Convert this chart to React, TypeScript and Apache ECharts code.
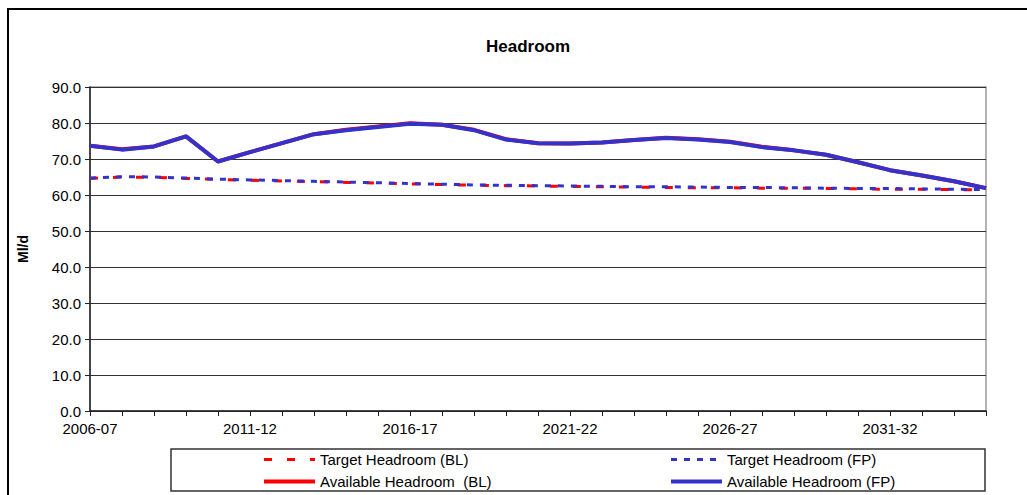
import React, { useEffect, useRef } from "react";
import * as echarts from "echarts";

const categories = [
  "2006-07", "2007-08", "2008-09", "2009-10", "2010-11", "2011-12", "2012-13", "2013-14",
  "2014-15", "2015-16", "2016-17", "2017-18", "2018-19", "2019-20", "2020-21", "2021-22",
  "2022-23", "2023-24", "2024-25", "2025-26", "2026-27", "2027-28", "2028-29", "2029-30",
  "2030-31", "2031-32", "2032-33", "2033-34", "2034-35",
];

const targetBL = [
  64.6, 65.0, 64.9, 64.6, 64.3, 64.1, 63.9, 63.7, 63.5, 63.3, 63.1, 62.9, 62.7, 62.6, 62.5,
  62.4, 62.3, 62.2, 62.1, 62.0, 62.0, 61.9, 61.9, 61.8, 61.7, 61.6, 61.6, 61.5, 61.4,
];
const targetFP = [
  64.7, 65.1, 65.0, 64.7, 64.4, 64.2, 64.0, 63.8, 63.6, 63.4, 63.2, 63.0, 62.8, 62.7, 62.6,
  62.5, 62.4, 62.3, 62.3, 62.2, 62.1, 62.1, 62.0, 61.9, 61.8, 61.8, 61.7, 61.6, 61.5,
];
const availableBL = [
  73.7, 72.7, 73.5, 76.3, 69.3, 71.9, 74.4, 76.9, 78.1, 79.0, 79.9, 79.5, 78.1, 75.5, 74.4,
  74.3, 74.6, 75.3, 75.9, 75.5, 74.8, 73.4, 72.4, 71.2, 69.1, 66.9, 65.4, 63.8, 61.9,
];
const availableFP = [
  73.7, 72.6, 73.5, 76.3, 69.3, 71.9, 74.4, 76.9, 78.0, 78.9, 79.8, 79.5, 78.0, 75.4, 74.4,
  74.3, 74.6, 75.3, 75.8, 75.4, 74.7, 73.3, 72.4, 71.2, 69.1, 66.9, 65.4, 63.8, 61.9,
];

const RED = "#FF0000";
const BLUE = "#3333CC";
const FONT = "Liberation Sans, Arial, sans-serif";

const RED_DASH = [8, 15];
const BLUE_DASH = [6, 7];

export default function App() {
  const ref = useRef<HTMLDivElement>(null);
  useEffect(() => {
    if (!ref.current) return;
    const chart = echarts.init(ref.current, null, { renderer: "svg" });
    const hiddenSymbol = {
      color: "rgba(0,0,0,0)",
      borderColor: "rgba(0,0,0,0)",
      borderWidth: 0,
      opacity: 0,
    };
    const legendCommon = {
      orient: "vertical" as const,
      top: 452,
      padding: 0,
      itemWidth: 51,
      itemHeight: 14,
      itemGap: 7,
      itemStyle: hiddenSymbol,
      textStyle: { fontSize: 15, color: "#000", fontFamily: FONT },
    };
    chart.setOption({
      animation: false,
      backgroundColor: "#fff",
      textStyle: { fontFamily: FONT },
      title: {
        text: "Headroom",
        left: 523,
        textAlign: "center",
        top: 33,
        textStyle: { fontSize: 17, fontWeight: "bold", color: "#000", fontFamily: FONT },
      },
      grid: {
        left: 90,
        right: 41,
        top: 87,
        bottom: 84,
        show: true,
        borderColor: "#999",
        borderWidth: 1.5,
      },
      legend: [
        {
          ...legendCommon,
          left: 262,
          data: [
            {
              name: "Target Headroom (BL)",
              itemStyle: hiddenSymbol,
              lineStyle: { color: RED, width: 3, type: RED_DASH },
            },
            {
              name: "Available Headroom  (BL)",
              itemStyle: hiddenSymbol,
              lineStyle: { color: RED, width: 4, type: "solid" },
            },
          ],
        },
        {
          ...legendCommon,
          left: 669,
          data: [
            {
              name: "Target Headroom (FP)",
              itemStyle: hiddenSymbol,
              lineStyle: { color: BLUE, width: 3, type: BLUE_DASH },
            },
            {
              name: "Available Headroom (FP)",
              itemStyle: hiddenSymbol,
              lineStyle: { color: BLUE, width: 4, type: "solid" },
            },
          ],
        },
      ],
      xAxis: {
        type: "category",
        data: categories,
        boundaryGap: false,
        axisLine: { lineStyle: { color: "#222", width: 1.5 } },
        axisTick: { interval: 0, length: 5, lineStyle: { color: "#222" } },
        axisLabel: { interval: 4, fontSize: 15, color: "#000", margin: 10, fontFamily: FONT },
        splitLine: { show: false },
      },
      yAxis: {
        type: "value",
        min: 0,
        max: 90,
        interval: 10,
        name: "Ml/d",
        nameLocation: "middle",
        nameRotate: 90,
        nameGap: 60,
        nameTextStyle: { fontSize: 14, fontWeight: "bold", color: "#000", fontFamily: FONT },
        axisLine: { show: true, lineStyle: { color: "#222", width: 1.5 } },
        axisTick: { show: true, length: 5, lineStyle: { color: "#222" } },
        axisLabel: {
          fontSize: 15,
          color: "#000",
          margin: 9,
          fontFamily: FONT,
          formatter: (v: number) => v.toFixed(1),
        },
        splitLine: { lineStyle: { color: "#333", width: 1 } },
      },
      graphic: [
        {
          type: "rect",
          shape: { x: 8, y: 9, width: 1100, height: 600 },
          style: { fill: "none", stroke: "#000", lineWidth: 2 },
          silent: true,
        },
        {
          type: "rect",
          shape: { x: 171, y: 449, width: 814, height: 42 },
          style: { fill: "none", stroke: "#333", lineWidth: 1.5 },
          silent: true,
        },
      ],
      series: [
        {
          name: "Target Headroom (BL)",
          type: "line",
          data: targetBL,
          symbol: "none",
          color: RED,
          lineStyle: { color: RED, width: 3, type: RED_DASH },
        },
        {
          name: "Target Headroom (FP)",
          type: "line",
          data: targetFP,
          symbol: "none",
          color: BLUE,
          lineStyle: { color: BLUE, width: 3, type: BLUE_DASH },
        },
        {
          name: "Available Headroom  (BL)",
          type: "line",
          data: availableBL,
          symbol: "none",
          color: RED,
          lineStyle: { color: RED, width: 4 },
        },
        {
          name: "Available Headroom (FP)",
          type: "line",
          data: availableFP,
          symbol: "none",
          color: BLUE,
          lineStyle: { color: BLUE, width: 4 },
        },
      ],
    });
    return () => chart.dispose();
  }, []);
  return (
    <div
      ref={ref}
      style={{ position: "fixed", left: 0, top: 0, width: 1027, height: 495 }}
    />
  );
}
